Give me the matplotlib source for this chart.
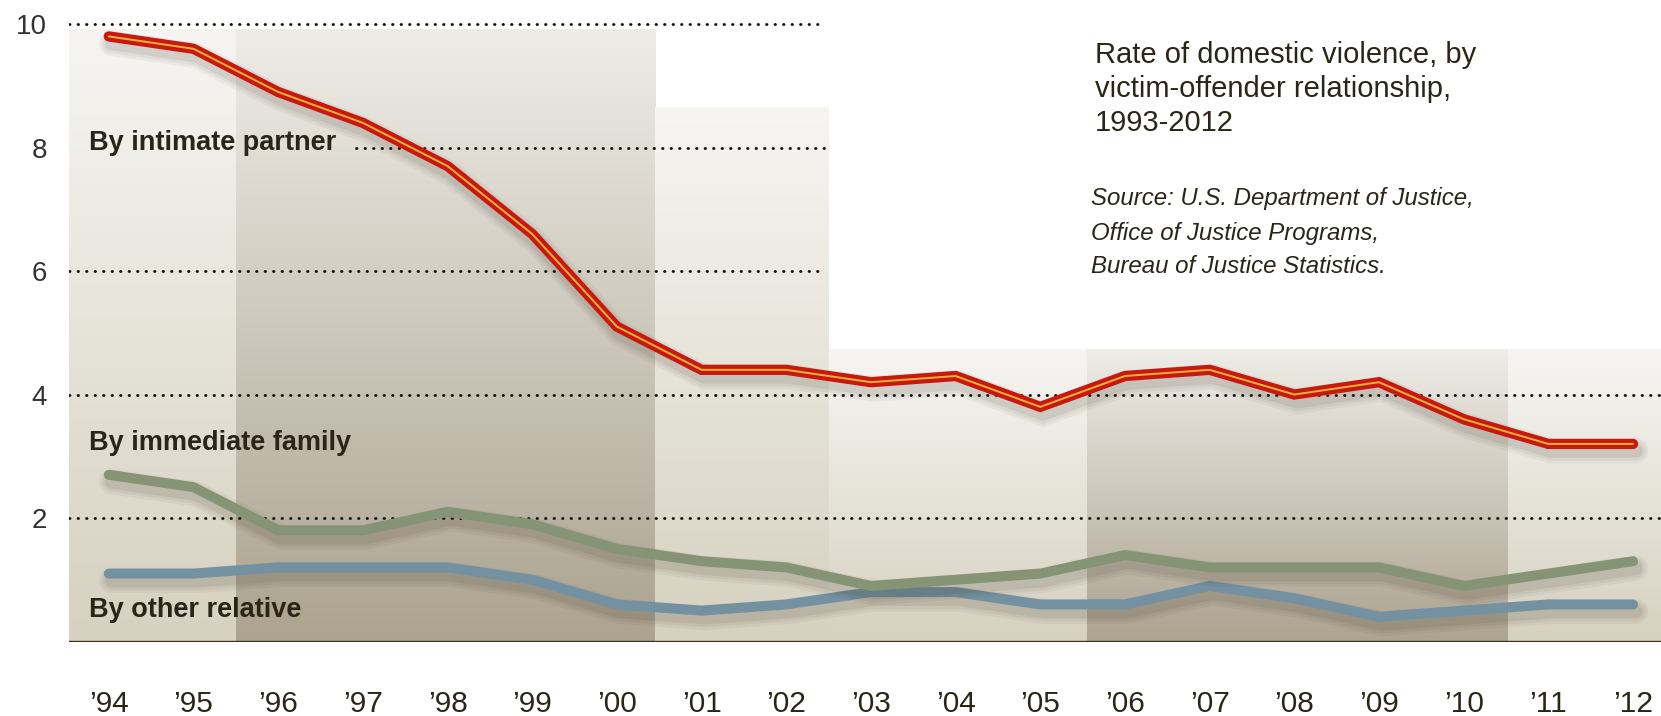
import numpy as np
import matplotlib
matplotlib.use("Agg")
import matplotlib.pyplot as plt
import matplotlib.patheffects as pe

W, H = 1661, 716

years = list(range(1994, 2013))
year_labels = ["\u2019" + str(y)[2:] for y in years]

intimate_partner = [9.8, 9.6, 8.9, 8.4, 7.7, 6.6, 5.1, 4.4, 4.4, 4.2,
                    4.3, 3.8, 4.3, 4.4, 4.0, 4.2, 3.6, 3.2, 3.2]
immediate_family = [2.7, 2.5, 1.8, 1.8, 2.1, 1.9, 1.5, 1.3, 1.2, 0.9,
                    1.0, 1.1, 1.4, 1.2, 1.2, 1.2, 0.9, 1.1, 1.3]
other_relative = [1.1, 1.1, 1.2, 1.2, 1.2, 1.0, 0.6, 0.5, 0.6, 0.8,
                  0.8, 0.6, 0.6, 0.9, 0.7, 0.4, 0.5, 0.6, 0.6]

y_ticks = [2, 4, 6, 8, 10]

# background panels: (x0, x1, top, dark?)
panels = [
    (1993.53, 1995.5, 9.9, False),
    (1995.5, 2000.45, 9.9, True),
    (2000.45, 2002.5, 8.64, False),
    (2002.5, 2005.55, 4.72, False),
    (2005.55, 2010.52, 4.72, True),
    (2010.52, 2012.4, 4.72, False),
]

# dotted grid lines: (y, x0, x1)
grid_spans = [
    (10, 1993.53, 2002.45),
    (8, 1996.92, 2002.45),
    (6, 1993.53, 2002.45),
    (4, 1993.53, 2012.4),
    (2, 1993.53, 2012.4),
]

plt.rcParams['font.family'] = ['Liberation Sans', 'DejaVu Sans']
text_col = '#2b2418'

fig = plt.figure(figsize=(W / 100, H / 100), dpi=100)
ax = fig.add_axes([69 / W, 74.5 / H, 1592 / W, 641.5 / H])
ax.set_xlim(1993.53, 2012.33)
ax.set_ylim(0, 10.39)

for x0, x1, top, dark in panels:
    if dark:
        c_top, c_bot = np.array([238, 236, 231]), np.array([172, 163, 144])
    else:
        c_top, c_bot = np.array([246, 245, 242]), np.array([214, 209, 192])
    t = np.linspace(0, 1, 200)[:, None]
    grad = (c_top * (1 - t) + c_bot * t) / 255.0
    grad = grad[:, None, :]
    ax.imshow(grad, extent=[x0, x1, 0, top], aspect='auto',
              interpolation='bilinear', zorder=0)

for y, x0, x1 in grid_spans:
    ax.plot([x0, x1], [y, y], color='#110e08', linewidth=2.0,
            linestyle=(0, (0.2, 2.86)), dash_capstyle='round', zorder=1)

ax.axhline(0, color='#3a2e1e', linewidth=2.4, zorder=5)


def shadow():
    fx = []
    for lw, a in [(18, 0.05), (14, 0.06), (10, 0.08)]:
        fx.append(pe.SimpleLineShadow(offset=(2, -5), shadow_color='#3a2e1e',
                                      alpha=a, linewidth=lw))
    fx.append(pe.Normal())
    return fx


ax.plot(years, other_relative, color='#7391a0', linewidth=7.2,
        solid_capstyle='round', solid_joinstyle='round',
        path_effects=shadow(), zorder=3)
ax.plot(years, immediate_family, color='#859474', linewidth=7.2,
        solid_capstyle='round', solid_joinstyle='round',
        path_effects=shadow(), zorder=3)
ax.plot(years, intimate_partner, color='#c8190f', linewidth=7.4,
        solid_capstyle='round', solid_joinstyle='miter',
        path_effects=shadow(), zorder=4)
ax.plot(years, intimate_partner, color='#f2b13a', linewidth=1.4,
        solid_capstyle='round', solid_joinstyle='miter', zorder=4)

for s in ax.spines.values():
    s.set_visible(False)

ax.set_yticks(y_ticks)
ax.set_yticklabels([str(v) for v in y_ticks], fontsize=20, color='#333333')
ax.set_xticks(years)
ax.set_xticklabels(year_labels, fontsize=21.5, color='#2b2418')
ax.tick_params(axis='y', length=0, pad=16)
ax.tick_params(axis='x', length=0, pad=35)


def ftext(x, y, s, **kw):
    fig.text(x / W, 1 - y / H, s, va='baseline', ha='left', color=text_col, **kw)


ftext(1095, 63, "Rate of domestic violence, by", fontsize=21)
ftext(1095, 97, "victim-offender relationship,", fontsize=21)
ftext(1095, 131, "1993-2012", fontsize=21)

ftext(1091, 205, "Source: U.S. Department of Justice,", fontsize=17.3, style='italic')
ftext(1091, 240, "Office of Justice Programs,", fontsize=17.3, style='italic')
ftext(1091, 273, "Bureau of Justice Statistics.", fontsize=17.3, style='italic')

ftext(89, 150, "By intimate partner", fontsize=19.5, fontweight='bold')
ftext(89, 450, "By immediate family", fontsize=19.5, fontweight='bold')
ftext(89, 617, "By other relative", fontsize=19.5, fontweight='bold')

fig.savefig("out.png", dpi=100)
